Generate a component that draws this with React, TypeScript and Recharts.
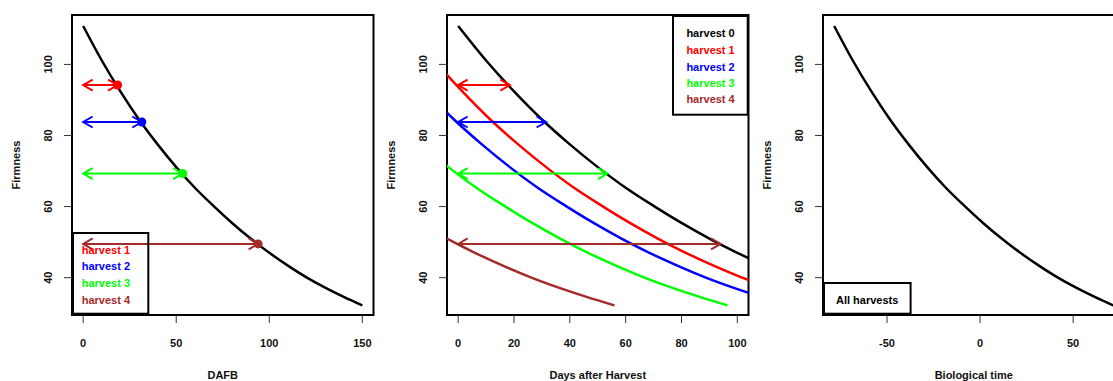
import React from 'react'
import { ComposedChart, Line, XAxis, YAxis, ReferenceLine, ReferenceDot, ReferenceArea, Legend } from 'recharts'

// firmness curve (days after full bloom)
const dafb = [0, 10, 20, 30, 40, 50, 60, 70, 80, 90, 100, 110, 120, 130, 140, 150]
const firmness = [110.8, 101.1, 92.4, 84.5, 77.5, 71.1, 65.3, 60.2, 55.4, 51.0, 47.0, 43.4, 40.1, 37.2, 34.6, 32.2]

const harvestNames = ['harvest 1', 'harvest 2', 'harvest 3', 'harvest 4']
const harvestDay = [18.5, 31.5, 53.5, 94]
const harvestFirmness = [94.2, 83.8, 69.3, 49.5]
const harvestColors = ['#ff0000', '#0000ff', '#00ff00', '#a52a2a']

// shift between DAFB and biological time in the third panel
const bioOffset = 78.4

const firmnessTicks = [40, 60, 80, 100]
const dafbTicks = [0, 50, 100, 150]
const daysTicks = [0, 20, 40, 60, 80, 100]
const bioTicks = [-50, 0, 50]

const FONT = '"Liberation Sans", Arial, sans-serif'
const TXT = '#111'
const PLOT_LEFT = 72
const PLOT_W = 301.5
const PLOT_TOP = 15
const PLOT_BOTTOM = 315
const CHART_W = PLOT_LEFT + PLOT_W + 2
const CHART_H = 381
const Y_DOMAIN: [number, number] = [29.5, 113.9]

const curve = (shift: number) => dafb.map((t, i) => ({ x: t - shift, y: firmness[i] }))

const arrowShape = (color: string) => (props: any) => {
  const { x1, y1, x2, y2 } = props
  const hx = 9.5
  const hy = 5.5
  const d =
    `M${x1},${y1}L${x2},${y2}` +
    `M${x1 + hx},${y1 - hy}L${x1},${y1}L${x1 + hx},${y1 + hy}` +
    `M${x2 - hx},${y2 - hy}L${x2},${y2}L${x2 - hx},${y2 + hy}`
  return <path d={d} stroke={color} strokeWidth={2} fill="none" />
}

const XTick = (props: any) => (
  <text x={props.x} y={PLOT_BOTTOM + 31.5} textAnchor="middle" fontSize={11} fontWeight="bold" fill={TXT} fontFamily={FONT}>
    {props.payload.value}
  </text>
)

const YTick = (props: any) => {
  const bx = PLOT_LEFT - 20
  return (
    <text x={bx} y={props.y} transform={`rotate(-90, ${bx}, ${props.y})`} textAnchor="middle" fontSize={11} fontWeight="bold" fill={TXT} fontFamily={FONT}>
      {props.payload.value}
    </text>
  )
}

const YTitle = () => {
  const bx = PLOT_LEFT - 52
  const cy = (PLOT_TOP + PLOT_BOTTOM) / 2
  return (
    <text x={bx} y={cy} transform={`rotate(-90, ${bx}, ${cy})`} textAnchor="middle" fontSize={11} fontWeight="bold" fill={TXT} fontFamily={FONT}>
      Firmness
    </text>
  )
}

const xTitle = (title: string) => () => (
  <text x={PLOT_LEFT + PLOT_W / 2} y={379} textAnchor="middle" fontSize={11} fontWeight="bold" fill={TXT} fontFamily={FONT}>
    {title}
  </text>
)

interface LegendSpec {
  left: number
  top: number
  width: number
  height: number
  textX: number
  baselines: number[]
  items: { label: string; color: string }[]
}

const legendBox = (spec: LegendSpec) => () => (
  <svg width={spec.width} height={spec.height} style={{ display: 'block', overflow: 'visible' }}>
    <rect x={1} y={1} width={spec.width - 2} height={spec.height - 2} fill="none" stroke="#000" strokeWidth={2} />
    {spec.items.map((it, i) => (
      <text key={it.label} x={spec.textX} y={spec.baselines[i]} fontSize={11} fontWeight="bold" fill={it.color} fontFamily={FONT}>
        {it.label}
      </text>
    ))}
  </svg>
)

interface PanelProps {
  left: number
  xDomain: [number, number]
  xTicks: number[]
  title: string
  lines: { data: { x: number; y: number }[]; color: string }[]
  arrows?: { from: number; to: number; y: number; color: string }[]
  dots?: { x: number; y: number; color: string }[]
  legend: LegendSpec
}

function Panel({ left, xDomain, xTicks, title, lines, arrows = [], dots = [], legend }: PanelProps) {
  return (
    <div style={{ position: 'absolute', left, top: 0 }}>
      <ComposedChart width={CHART_W} height={CHART_H} margin={{ top: PLOT_TOP, right: 2, bottom: 0, left: 0 }}>
        <XAxis
          type="number"
          dataKey="x"
          domain={xDomain}
          allowDataOverflow
          ticks={xTicks}
          interval={0}
          height={CHART_H - PLOT_BOTTOM}
          axisLine={false}
          tickSize={8}
          tickLine={{ stroke: '#333', strokeWidth: 1 }}
          tick={XTick}
          label={xTitle(title)}
        />
        <YAxis
          type="number"
          dataKey="y"
          domain={Y_DOMAIN}
          allowDataOverflow
          ticks={firmnessTicks}
          interval={0}
          width={PLOT_LEFT}
          axisLine={false}
          tickSize={8}
          tickLine={{ stroke: '#333', strokeWidth: 1 }}
          tick={YTick}
          label={YTitle}
        />
        <ReferenceArea x1={xDomain[0]} x2={xDomain[1]} y1={Y_DOMAIN[0]} y2={Y_DOMAIN[1]} fill="none" stroke="#000" strokeWidth={2} ifOverflow="visible" />
        {lines.map((l, i) => (
          <Line
            key={i}
            data={l.data}
            dataKey="y"
            type="monotone"
            stroke={l.color}
            strokeWidth={2.5}
            dot={false}
            activeDot={false}
            isAnimationActive={false}
          />
        ))}
        {arrows.map((a, i) => (
          <ReferenceLine
            key={'a' + i}
            segment={[{ x: a.from, y: a.y }, { x: a.to, y: a.y }]}
            shape={arrowShape(a.color)}
            stroke={a.color}
          />
        ))}
        {dots.map((d, i) => (
          <ReferenceDot key={'d' + i} x={d.x} y={d.y} r={4.5} fill={d.color} stroke={d.color} strokeWidth={0} />
        ))}
        <Legend
          layout="vertical"
          align="center"
          verticalAlign="middle"
          wrapperStyle={{ position: 'absolute', left: legend.left, top: legend.top, width: legend.width, height: legend.height, margin: 0, padding: 0 }}
          content={legendBox(legend)}
        />
      </ComposedChart>
    </div>
  )
}

export default function App() {
  const harvestArrows = harvestDay.map((d, i) => ({ from: 0, to: d, y: harvestFirmness[i], color: harvestColors[i] }))
  const harvestDots = harvestDay.map((d, i) => ({ x: d, y: harvestFirmness[i], color: harvestColors[i] }))
  const harvestItems = harvestNames.map((n, i) => ({ label: n, color: harvestColors[i] }))

  return (
    <div style={{ position: 'absolute', left: 0, top: 0, width: 1113, height: 381, overflow: 'hidden', background: '#fff' }}>
      <Panel
        left={0}
        xDomain={[-6, 156]}
        xTicks={dafbTicks}
        title="DAFB"
        lines={[{ data: curve(0), color: '#000' }]}
        arrows={harvestArrows}
        dots={harvestDots}
        legend={{ left: 72, top: 232.3, width: 77.3, height: 82.7, textX: 9.7, baselines: [21.7, 38.4, 55, 71.7], items: harvestItems }}
      />
      <Panel
        left={375.3}
        xDomain={[-4, 104]}
        xTicks={daysTicks}
        title="Days after Harvest"
        lines={[
          { data: curve(0), color: '#000' },
          ...harvestDay.map((d, i) => ({ data: curve(d), color: harvestColors[i] })),
        ]}
        arrows={harvestArrows}
        legend={{
          left: 297,
          top: 15,
          width: 76.7,
          height: 100.7,
          textX: 14.4,
          baselines: [22.3, 39, 55.7, 72, 88.3],
          items: [{ label: 'harvest 0', color: '#000' }, ...harvestItems],
        }}
      />
      <Panel
        left={750.7}
        xDomain={[-84.4, 77.6]}
        xTicks={bioTicks}
        title="Biological time"
        lines={[{ data: curve(bioOffset), color: '#000' }]}
        legend={{ left: 72, top: 282.3, width: 88.6, height: 32.7, textX: 13, baselines: [22.4], items: [{ label: 'All harvests', color: '#000' }] }}
      />
    </div>
  )
}
